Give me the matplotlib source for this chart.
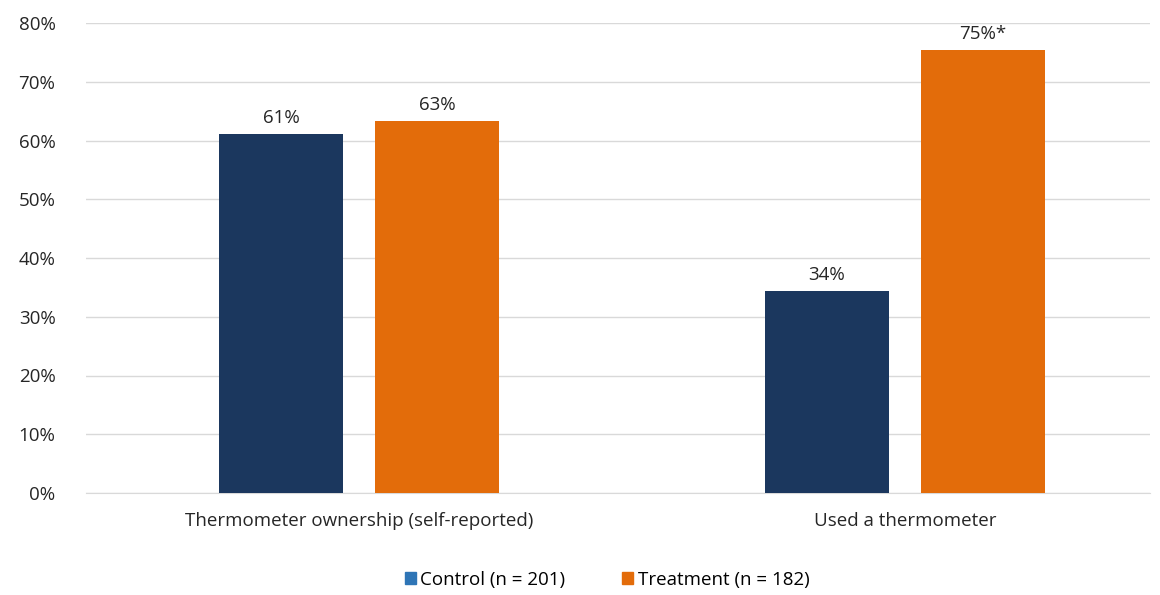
import matplotlib.pyplot as plt
from matplotlib.patches import Patch

# Data
categories = ["Thermometer ownership (self-reported)", "Used a thermometer"]
control = [61.1, 34.4]
treatment = [63.3, 75.4]
control_labels = ["61%", "34%"]
treatment_labels = ["63%", "75%*"]
series_names = ["Control (n = 201)", "Treatment (n = 182)"]

NAVY = "#1B375E"
ORANGE = "#E36C0A"
LEGEND_BLUE = "#2E75B6"
TXT = "#262626"
FS = 13.5

plt.rcParams['font.family'] = ['Open Sans', 'DejaVu Sans']

fig = plt.figure(figsize=(11.6, 5.95), dpi=100)
ax = fig.add_axes([86 / 1160, 102 / 595, 1064 / 1160, 470 / 595])

x = list(range(len(categories)))
w = 0.227
off = 0.143
bars_c = ax.bar([i - off for i in x], control, width=w, color=NAVY, zorder=3)
bars_t = ax.bar([i + off for i in x], treatment, width=w, color=ORANGE, zorder=3)

for b, lab in zip(bars_c, control_labels):
    ax.text(b.get_x() + b.get_width() / 2, b.get_height() + 1.2, lab,
            ha="center", va="bottom", fontsize=FS, color=TXT)
for b, lab in zip(bars_t, treatment_labels):
    ax.text(b.get_x() + b.get_width() / 2, b.get_height() + 1.2, lab,
            ha="center", va="bottom", fontsize=FS, color=TXT)

ax.set_xlim(-0.5, 1.449)
ax.set_ylim(0, 80)
ax.set_yticks(range(0, 81, 10))
ax.set_yticklabels([f"{v}%" for v in range(0, 81, 10)], fontsize=FS, color=TXT)
ax.set_xticks(x)
ax.set_xticklabels(categories, fontsize=FS, color=TXT)
ax.tick_params(axis="y", length=0, pad=22)
ax.tick_params(axis="x", length=0, pad=14)

ax.grid(axis="y", color="#D9D9D9", linewidth=1, zorder=0)
for s in ["top", "right", "left"]:
    ax.spines[s].set_visible(False)
ax.spines["bottom"].set_color("#D9D9D9")

handles = [Patch(color=LEGEND_BLUE), Patch(color=ORANGE)]
fig.legend(handles, series_names, loc="center", bbox_to_anchor=(607 / 1160, 1 - 580 / 595),
           ncol=2, frameon=False, fontsize=FS, handlelength=0.6, handleheight=0.6,
           handletextpad=0.25, columnspacing=3.0)

fig.savefig("out.png", dpi=100)
